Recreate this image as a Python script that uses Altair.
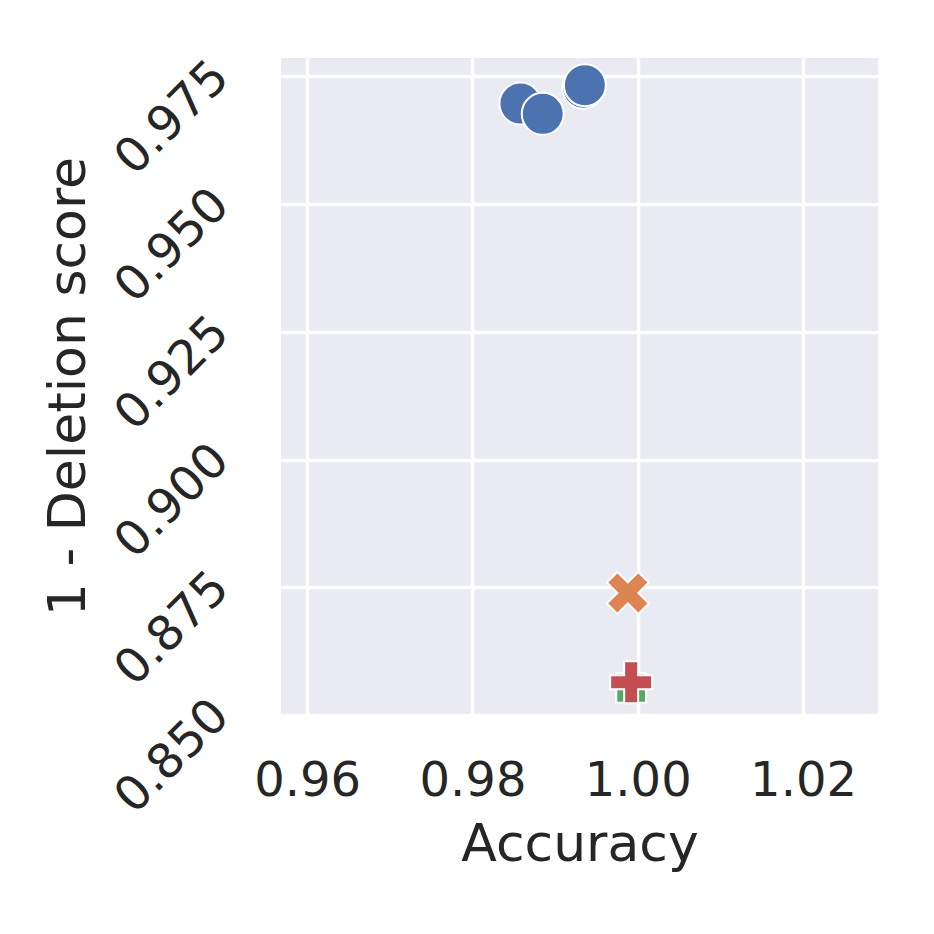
import altair as alt
import pandas as pd

# data
methods = ["Method A", "Method A", "Method A", "Method A", "Method B", "Method C", "Method D"]
accuracy = [0.9858, 0.9885, 0.9934, 0.9936, 0.9988, 0.9992, 0.9992]
one_minus_deletion = [0.9697, 0.9677, 0.9728, 0.9733, 0.8739, 0.8553, 0.8564]

method_order = ["Method A", "Method B", "Method C", "Method D"]
method_colors = ["#4C72B0", "#DD8452", "#55A868", "#C44E52"]
circle_path = "circle"
x_path = "M-0.5,-1L0,-0.5L0.5,-1L1,-0.5L0.5,0L1,0.5L0.5,1L0,0.5L-0.5,1L-1,0.5L-0.5,0L-1,-0.5Z"
square_path = "M-0.7071,-0.7071L0.7071,-0.7071L0.7071,0.7071L-0.7071,0.7071Z"
plus_path = ("M-0.3333,-1L0.3333,-1L0.3333,-0.3333L1,-0.3333L1,0.3333L0.3333,0.3333"
             "L0.3333,1L-0.3333,1L-0.3333,0.3333L-1,0.3333L-1,-0.3333L-0.3333,-0.3333Z")
method_shapes = [circle_path, x_path, square_path, plus_path]

x_ticks = [0.96, 0.98, 1.00, 1.02]
y_ticks = [0.850, 0.875, 0.900, 0.925, 0.950, 0.975]

df = pd.DataFrame({
    "method": methods,
    "Accuracy": accuracy,
    "score": one_minus_deletion,
    "idx": list(range(len(methods))),
})

chart = alt.Chart(df).mark_point(
    filled=True, opacity=1, stroke="white", strokeWidth=2, size=1760
).encode(
    x=alt.X("Accuracy:Q",
            scale=alt.Scale(domain=[0.95683, 1.02907], nice=False, zero=False),
            axis=alt.Axis(values=x_ticks, format=".2f", title="Accuracy",
                          labelFontSize=48, labelPadding=80, labelBaseline="alphabetic",
                          titleFontSize=52, titleBaseline="alphabetic", titleY=145,
                          titleFontWeight="normal")),
    y=alt.Y("score:Q",
            scale=alt.Scale(domain=[0.85, 0.97862], nice=False, zero=False),
            axis=alt.Axis(values=y_ticks, format=".3f", title="1 - Deletion score",
                          labelFontSize=48, labelAngle=315, labelAlign="right",
                          labelBaseline="middle", labelPadding=60, labelOffset=-7,
                          titleFontSize=52, titleAngle=270, titleBaseline="alphabetic",
                          titleAlign="center", titleX=-197, titleY=328,
                          titleFontWeight="normal")),
    color=alt.Color("method:N", scale=alt.Scale(domain=method_order, range=method_colors), legend=None),
    shape=alt.Shape("method:N", scale=alt.Scale(domain=method_order, range=method_shapes), legend=None),
    order=alt.Order("idx:Q"),
).properties(
    width=597,
    height=657,
    autosize=alt.AutoSizeParams(type="none"),
    padding={"left": 273, "top": 50, "right": 48, "bottom": 203},
    background="white",
).configure_view(
    fill="#EAEAF2", stroke=None
).configure_axis(
    grid=True, gridColor="white", gridWidth=3.5, gridOpacity=1,
    domain=False, ticks=False, tickSize=0,
    labelColor="#262626", titleColor="#262626",
    labelFont="DejaVu Sans", titleFont="DejaVu Sans",
    labelOverlap=False, labelBound=False, labelFlush=False,
)

chart.save("out.html", embed_options={"renderer": "svg", "actions": False})
